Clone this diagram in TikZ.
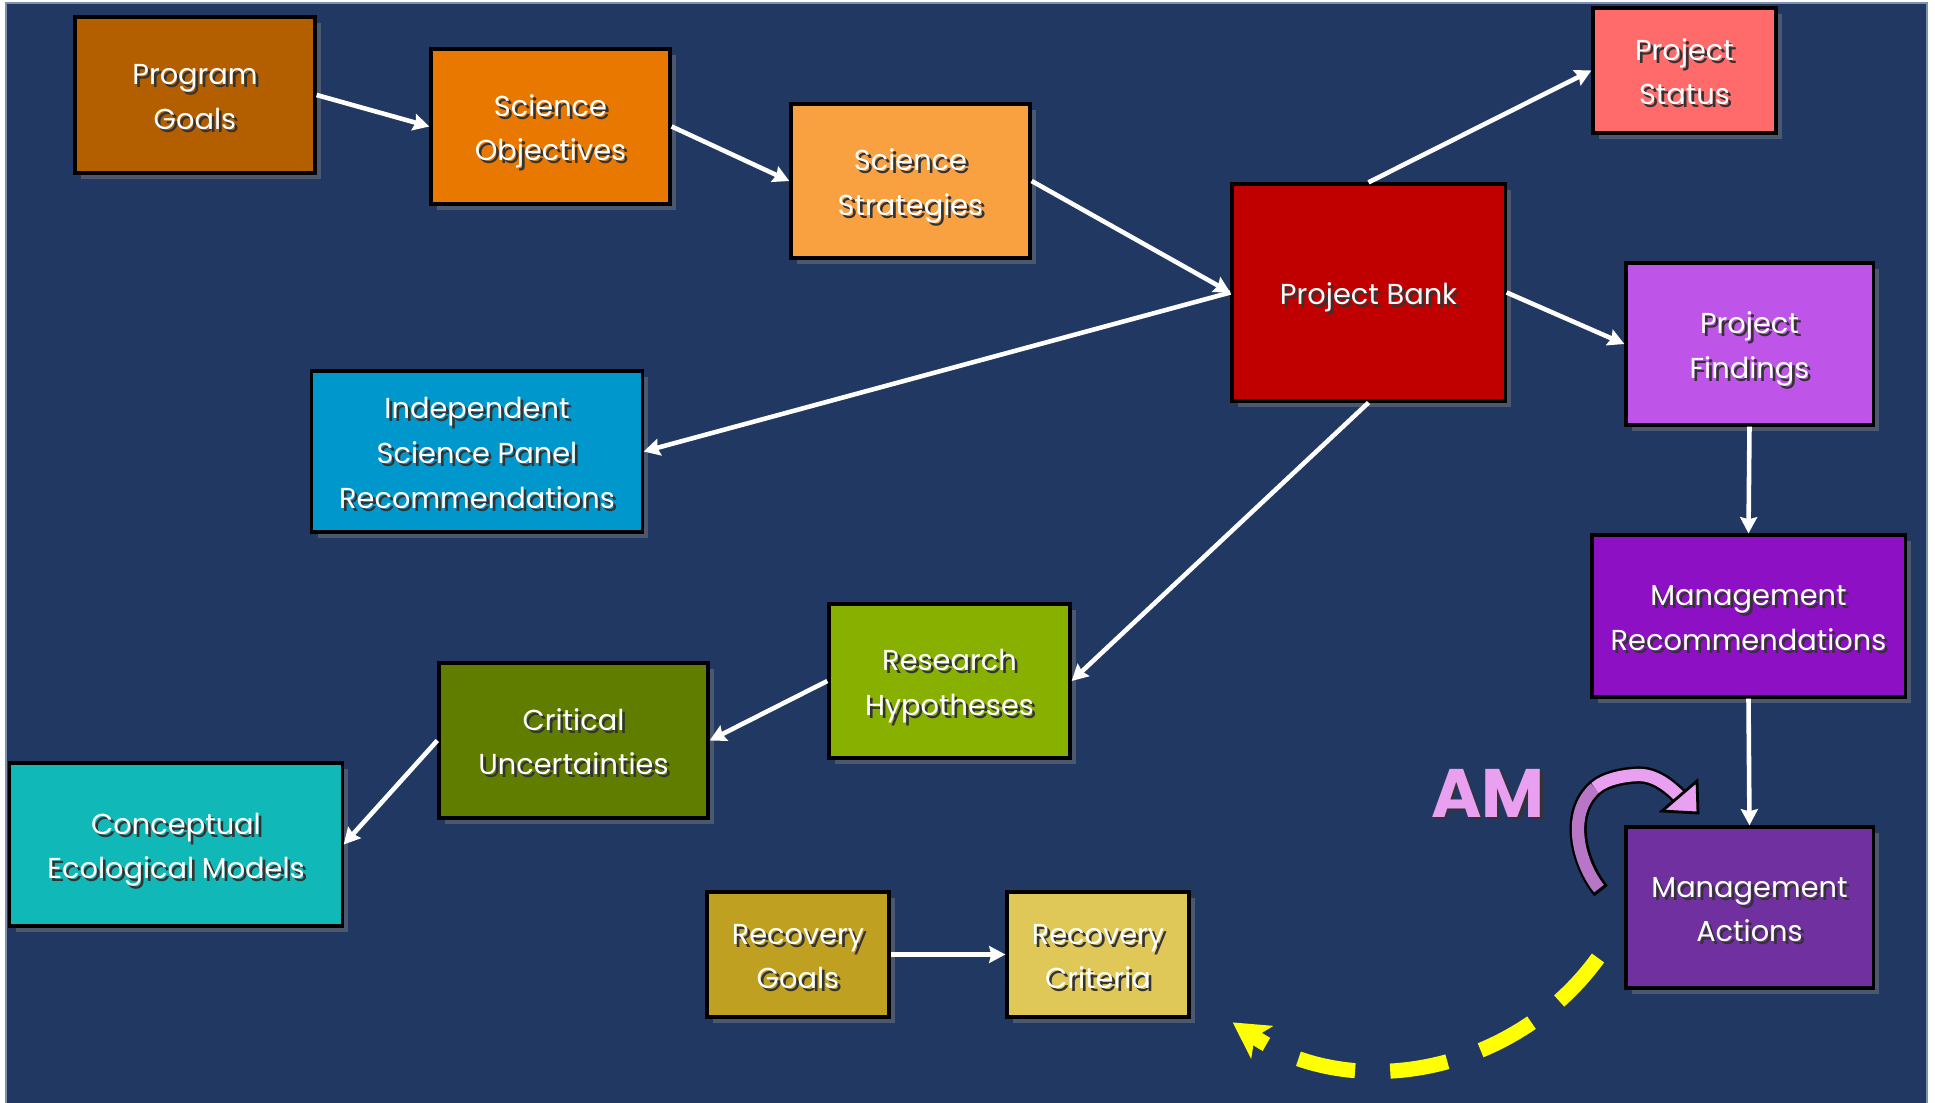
\documentclass[tikz,border=0pt]{standalone}
\usepackage{fontspec}
\setmainfont{Poppins}
\usetikzlibrary{arrows.meta,shadows}
\definecolor{bg}{HTML}{213863}
\definecolor{edgeg}{HTML}{7F8FB0}
\definecolor{cPG}{HTML}{B35F00}
\definecolor{cSO}{HTML}{E87800}
\definecolor{cSS}{HTML}{F9A040}
\definecolor{cPB}{HTML}{C00000}
\definecolor{cPS}{HTML}{FF6B6B}
\definecolor{cPF}{HTML}{BF55E8}
\definecolor{cMR}{HTML}{8E10C4}
\definecolor{cMA}{HTML}{7030A0}
\definecolor{cISP}{HTML}{0098CC}
\definecolor{cRH}{HTML}{88B000}
\definecolor{cCU}{HTML}{617D00}
\definecolor{cCEM}{HTML}{10B8B8}
\definecolor{cRG}{HTML}{C0A020}
\definecolor{cRC}{HTML}{DFC858}
\definecolor{amlight}{HTML}{E9A0F0}
\definecolor{amdark}{HTML}{B876C6}
\definecolor{yel}{HTML}{FFFF00}
\newcommand\shtxt[1]{\raisebox{-1.3pt}[\height][\depth]{\def\arraystretch{1}\setlength\tabcolsep{0pt}%
\makebox[0pt][l]{\raisebox{-0.8pt}{\hspace{0.8pt}\color{black!80}\begin{tabular}{c}#1\end{tabular}}}%
\begin{tabular}{c}#1\end{tabular}}}
\tikzset{
  box/.style={draw=black, line width=0.9pt, text=white, inner sep=0pt,
    font=\fontsize{8.2}{12.7}\selectfont,
    drop shadow={opacity=0.45, shadow xshift=1.6pt, shadow yshift=-1.6pt}},
  arr/.style={draw=white, line width=1.3pt, -{Stealth[length=4.6pt,width=4.8pt,inset=0.6pt]}},
}
\begin{document}
\begin{tikzpicture}[x=0.01cm,y=-0.01cm]
\useasboundingbox (0,0) rectangle (1935,1103);
\fill[white] (0,0) rectangle (1935,1103);
\fill[bg] (6,3) rectangle (1927,1103);
\draw[edgeg, line width=0.4pt] (6,1103) -- (6,3) -- (1927,3) -- (1927,1103);

% boxes
\node[box, fill=cPG, minimum width=2.40cm, minimum height=1.56cm] (pg) at (195,95) {\shtxt{Program\\Goals}};
\node[box, fill=cSO, minimum width=2.39cm, minimum height=1.55cm] (so) at (550.5,126.5) {\shtxt{Science\\Objectives}};
\node[box, fill=cSS, minimum width=2.39cm, minimum height=1.54cm] (ss) at (910.5,181) {\shtxt{Science\\Strategies}};
\node[box, fill=cPB, minimum width=2.73cm, minimum height=2.17cm] (pb) at (1368.5,292.5) {\shtxt{Project Bank}};
\node[box, fill=cPS, minimum width=1.83cm, minimum height=1.25cm] (ps) at (1684.5,70.5) {\shtxt{Project\\Status}};
\node[box, fill=cPF, minimum width=2.47cm, minimum height=1.62cm] (pf) at (1749.5,344) {\shtxt{Project\\Findings}};
\node[box, fill=cMR, minimum width=3.13cm, minimum height=1.62cm] (mr) at (1748.5,616) {\shtxt{Management\\Recommendations}};
\node[box, fill=cMA, minimum width=2.47cm, minimum height=1.61cm] (ma) at (1749.5,907.5) {\shtxt{Management\\Actions}};
\node[box, fill=cISP, minimum width=3.30cm, minimum height=1.61cm] (isp) at (477,451.5) {\shtxt{Independent\\Science Panel\\Recommendations}};
\node[box, fill=cRH, minimum width=2.41cm, minimum height=1.54cm] (rh) at (949.5,681) {\shtxt{Research\\Hypotheses}};
\node[box, fill=cCU, minimum width=2.69cm, minimum height=1.55cm] (cu) at (573.5,740.5) {\shtxt{Critical\\Uncertainties}};
\node[box, fill=cCEM, minimum width=3.32cm, minimum height=1.63cm] (cem) at (176,844.5) {\shtxt{Conceptual\\Ecological Models}};
\node[box, fill=cRG, minimum width=1.82cm, minimum height=1.25cm] (rg) at (798,954.5) {\shtxt{Recovery\\Goals}};
\node[box, fill=cRC, minimum width=1.82cm, minimum height=1.25cm] (rc) at (1098,954.5) {\shtxt{Recovery\\Criteria}};

% connectors
\draw[arr] (pg.east) -- (so.west);
\draw[arr] (so.east) -- (ss.west);
\draw[arr] (ss.east) -- (pb.west);
\draw[arr] (pb.west) -- (isp.east);
\draw[arr] (pb.north) -- (ps.west);
\draw[arr] (pb.east) -- (pf.west);
\draw[arr] (pb.south) -- (rh.east);
\draw[arr] (rh.west) -- (cu.east);
\draw[arr] (cu.west) -- (cem.east);
\draw[arr] (pf.south) -- (mr.north);
\draw[arr] (mr.south) -- (ma.north);
\draw[arr] (rg.east) -- (rc.west);

% yellow dashed return arrow
\coordinate (ys) at (1598,958);
\draw[yel, line width=4.3pt, dash pattern=on 16.5pt off 10pt,
  -{Stealth[length=10pt,width=11pt,inset=2.5pt]}]
  (ys) arc[start angle=36, end angle=124, radius=267];

% AM label
\node[text=black!80, font=\fontsize{19.5}{22}\selectfont\bfseries, inner sep=0pt] at (1490.5,795.5) {AM};
\node[text=amlight, font=\fontsize{19.5}{22}\selectfont\bfseries, inner sep=0pt] (am) at (1488,793) {AM};

% AM curved arrow
\coordinate (ams) at (1601,891);
\coordinate (amm) at (1595,788);
\coordinate (amt) at (1640,775);
\coordinate (ame) at (1680,797);
\draw[black, line width=4.9pt] (ams) .. controls (1580,865) and (1565,815) .. (amm)
  .. controls (1605,779) and (1625,775) .. (amt) .. controls (1655,775) and (1669,786) .. (ame);
\draw[amdark, line width=3.5pt, shorten <=0.9pt] (ams) .. controls (1580,865) and (1565,815) .. (amm);
\draw[amlight, line width=3.5pt] (amm) .. controls (1605,779) and (1625,775) .. (amt)
  .. controls (1655,775) and (1669,786) .. (ame);
\filldraw[fill=amlight, draw=black, line width=0.8pt, line join=miter] (1662,811) -- (1698,813) -- (1697,781) -- cycle;
\end{tikzpicture}
\end{document}
